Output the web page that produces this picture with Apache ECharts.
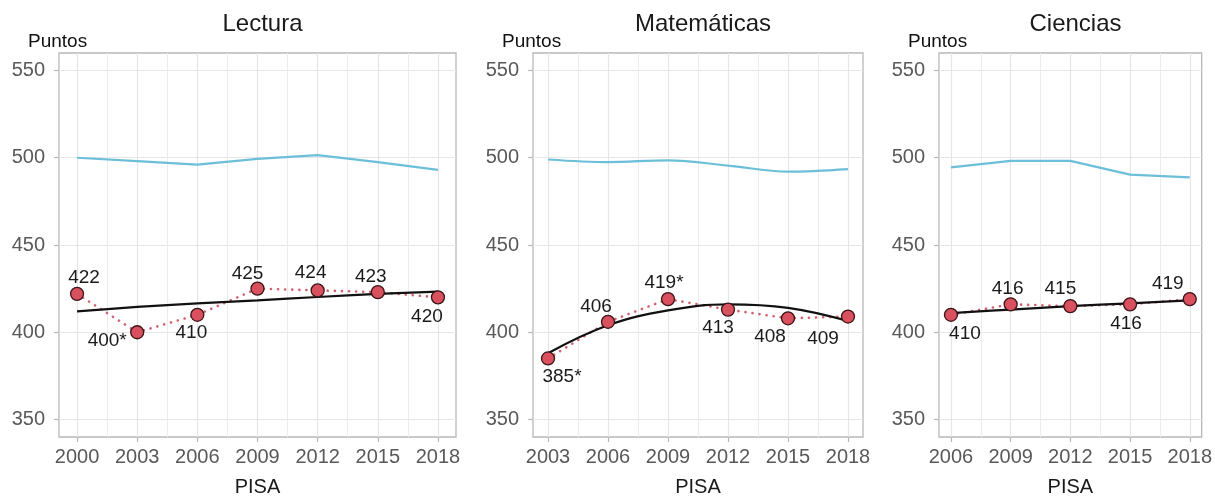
<!DOCTYPE html>
<html>
<head>
<meta charset="utf-8">
<script src="https://cdn.jsdelivr.net/npm/echarts@6/dist/echarts.min.js"></script>
<style>
  html, body { margin: 0; padding: 0; background: #fff; }
  #chart { width: 1215px; height: 502px; }
</style>
</head>
<body>
<div id="chart"></div>
<script>
// --- data ---
var panelTitles = ['Lectura', 'Matemáticas', 'Ciencias'];

var lecturaYears = [2000, 2003, 2006, 2009, 2012, 2015, 2018];
var lecturaScores = [422, 400, 410, 425, 424, 423, 420];
var lecturaLabels = ['422', '400*', '410', '425', '424', '423', '420'];
var lecturaOecd = [500, 498, 496, 499.3, 501.5, 497.5, 493];
var lecturaTrend = [412, 414.5, 416.5, 418.3, 420.2, 422, 423.3];

var mateYears = [2003, 2006, 2009, 2012, 2015, 2018];
var mateScores = [385, 406, 419, 413, 408, 409];
var mateLabels = ['385*', '406', '419*', '413', '408', '409'];
var mateOecd = [499, 497.5, 498.5, 495.5, 492, 493.5];
var mateTrend = [388, 404, 412.5, 416, 414, 406.5];

var cienciasYears = [2006, 2009, 2012, 2015, 2018];
var cienciasScores = [410, 416, 415, 416, 419];
var cienciasLabels = ['410', '416', '415', '416', '419'];
var cienciasOecd = [494.5, 498.2, 498.2, 490.3, 488.8];
var cienciasTrend = [411, 413, 415, 416.6, 418.3];

var yTicks = [350, 400, 450, 500, 550];

// --- layout ---
var fontFam = '"Liberation Sans", Arial, sans-serif';
var panels = [
    { years: lecturaYears, scores: lecturaScores, labels: lecturaLabels, oecd: lecturaOecd, trend: lecturaTrend,
      left: 59, width: 397, xMin: 1999.1, xMax: 2018.9,
      offsets: [[7, -16], [-30, 8], [-6, 18], [-10, -15], [-7, -18], [-7, -15], [-11, 19]] },
    { years: mateYears, scores: mateScores, labels: mateLabels, oecd: mateOecd, trend: mateTrend,
      left: 533, width: 330, xMin: 2002.25, xMax: 2018.75,
      offsets: [[14, 18], [-12, -15], [-4, -16], [-10, 18], [-18, 18], [-25, 22]] },
    { years: cienciasYears, scores: cienciasScores, labels: cienciasLabels, oecd: cienciasOecd, trend: cienciasTrend,
      left: 939, width: 263, xMin: 2005.4, xMax: 2018.6,
      offsets: [[14, 19], [-3, -16], [-10, -17], [-4, 19], [-22, -15]] }
];

function pairs(xs, ys) {
    return xs.map(function (x, i) { return [x, ys[i]]; });
}

function minorValues(years) {
    var out = [];
    for (var i = 0; i < years.length - 1; i++) out.push((years[i] + years[i + 1]) / 2);
    return out;
}

var grids = [], xAxes = [], yAxes = [], series = [], titles = [];

panels.forEach(function (p, i) {
    grids.push({
        left: p.left, width: p.width, top: 53, height: 389,
        show: true, borderColor: '#b8b8b8', borderWidth: 1.3, containLabel: false
    });
    titles.push({
        text: panelTitles[i], left: p.left + p.width / 2, top: 7, textAlign: 'center',
        textStyle: { fontFamily: fontFam, fontSize: 24, fontWeight: 'normal', color: '#1a1a1a' }
    });
    titles.push({
        text: 'Puntos', left: p.left - 36, top: 27,
        textStyle: { fontFamily: fontFam, fontSize: 19, fontWeight: 'normal', color: '#111' }
    });

    xAxes.push({
        type: 'value', gridIndex: i, min: p.xMin, max: p.xMax,
        name: 'PISA', nameLocation: 'middle', nameGap: 40,
        nameTextStyle: { fontFamily: fontFam, fontSize: 20, color: '#1a1a1a' },
        axisLine: { show: false },
        axisTick: { show: true, length: 5, customValues: p.years, lineStyle: { color: '#b8b8b8', width: 1.2 } },
        axisLabel: {
            customValues: p.years, margin: 10, fontFamily: fontFam, fontSize: 20, color: '#595959',
            formatter: function (v) { return String(v); }
        },
        splitLine: { show: true, lineStyle: { color: '#e6e6e6', width: 1.2 } }
    });
    yAxes.push({
        type: 'value', gridIndex: i, min: 340, max: 560,
        axisLine: { show: false },
        axisTick: { show: true, length: 5, customValues: yTicks, lineStyle: { color: '#b8b8b8', width: 1.2 } },
        axisLabel: { customValues: yTicks, margin: 14, fontFamily: fontFam, fontSize: 20, color: '#595959' },
        splitLine: { show: true, lineStyle: { color: '#e6e6e6', width: 1.2 } }
    });

    series.push({
        type: 'line', xAxisIndex: i, yAxisIndex: i, data: pairs(p.years, p.oecd),
        symbol: 'none', smooth: i === 1 ? 0.35 : false,
        lineStyle: { color: '#6cbfd8', width: 2.2 }, silent: true
    });
    series.push({
        type: 'line', xAxisIndex: i, yAxisIndex: i, data: pairs(p.years, p.scores),
        symbol: 'none',
        lineStyle: { color: '#d3616d', width: 2.6, type: [0.1, 7], cap: 'round' }, silent: true
    });
    series.push({
        type: 'line', xAxisIndex: i, yAxisIndex: i, data: pairs(p.years, p.trend),
        symbol: 'none', smooth: 0.4,
        lineStyle: { color: '#111', width: 2.2 }, silent: true
    });
    series.push({
        type: 'scatter', xAxisIndex: i, yAxisIndex: i,
        symbol: 'circle', symbolSize: 13,
        itemStyle: { color: '#d9515e', borderColor: '#3b1518', borderWidth: 1.3, opacity: 1 },
        label: {
            show: true, position: 'inside', fontFamily: fontFam, fontSize: 19, color: '#1a1a1a'
        },
        data: p.years.map(function (x, k) {
            return {
                value: [x, p.scores[k]],
                label: { formatter: p.labels[k], offset: p.offsets[k] }
            };
        }),
        z: 5, silent: true
    });
});

// hidden axes carrying the minor vertical grid lines
panels.forEach(function (p, i) {
    xAxes.push({
        type: 'value', gridIndex: i, min: p.xMin, max: p.xMax, show: true,
        axisLine: { show: false },
        axisLabel: { show: false },
        axisTick: { show: false, customValues: minorValues(p.years) },
        splitLine: { show: true, lineStyle: { color: '#ececec', width: 1 } }
    });
});

var chart = echarts.init(document.getElementById('chart'));
chart.setOption({
    animation: false,
    backgroundColor: '#fff',
    title: titles,
    grid: grids,
    xAxis: xAxes,
    yAxis: yAxes,
    series: series
});
window.addEventListener('resize', function () { chart.resize(); });
</script>
</body>
</html>
